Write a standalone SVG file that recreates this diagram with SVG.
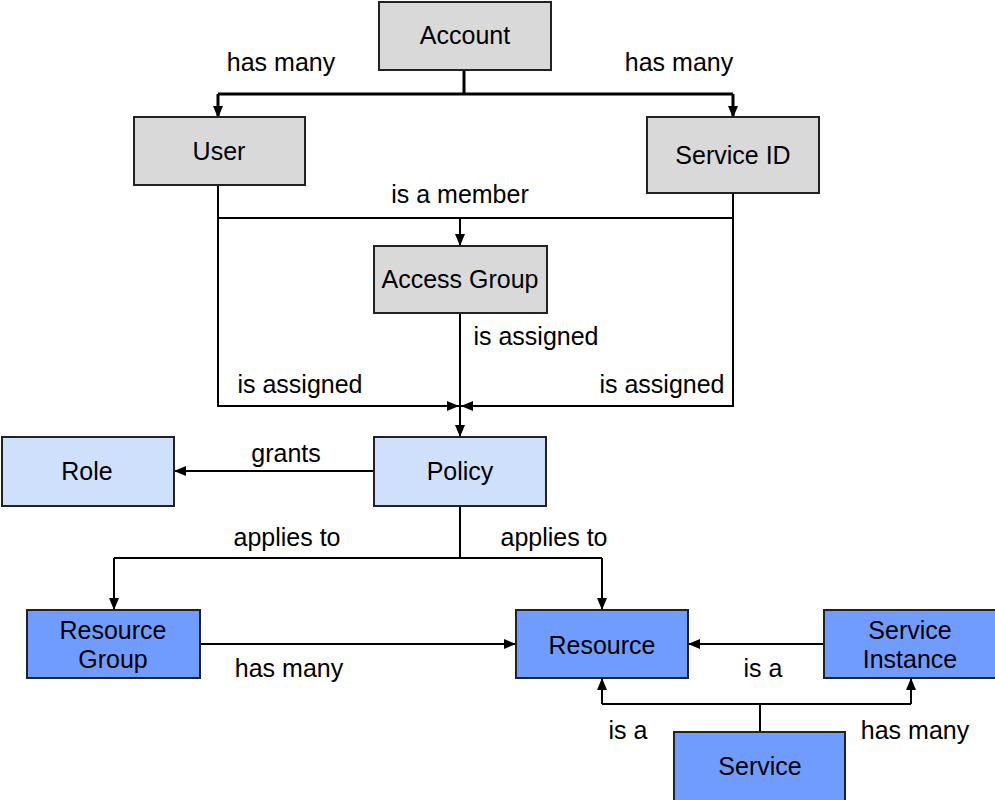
<svg xmlns="http://www.w3.org/2000/svg" width="995" height="800" viewBox="0 0 995 800">
<defs>
<marker id="ah" viewBox="0 0 12 10" refX="12" refY="5" markerWidth="12" markerHeight="10" markerUnits="userSpaceOnUse" orient="auto">
<path d="M0,0 L12,5 L0,10 Z" fill="#000"/>
</marker>
</defs>
<style>
text{font-family:"Liberation Sans",Arial,sans-serif;font-size:25px;fill:#000;text-anchor:middle}
.box{stroke:#222;stroke-width:2}
.gray{fill:#d9d9d9}
.light{fill:#cfe0fc}
.blue{fill:#709cff}
.c{fill:none;stroke:#000;stroke-width:2}
.thick{stroke-width:3}
</style>
<rect width="995" height="800" fill="#fff"/>
<g id="connectors">
<path class="c thick" d="M464,70 V94"/>
<path class="c thick" d="M218,94 H733"/>
<path class="c thick" d="M218,94 V118" marker-end="url(#ah)"/>
<path class="c thick" d="M733,94 V118" marker-end="url(#ah)"/>
<path class="c" d="M218,185 V406 H459" marker-end="url(#ah)"/>
<path class="c" d="M733,193 V406 H461" marker-end="url(#ah)"/>
<path class="c" d="M218,218 H733"/>
<path class="c" d="M460,218 V246" marker-end="url(#ah)"/>
<path class="c" d="M460,313 V437" marker-end="url(#ah)"/>
<path class="c" d="M374,471 H174" marker-end="url(#ah)"/>
<path class="c" d="M460,506 V558"/>
<path class="c" d="M114,558 H602"/>
<path class="c" d="M114,558 V610" marker-end="url(#ah)"/>
<path class="c" d="M602,558 V610" marker-end="url(#ah)"/>
<path class="c" d="M200,644 H516" marker-end="url(#ah)"/>
<path class="c" d="M824,644 H688" marker-end="url(#ah)"/>
<path class="c" d="M760,732 V704"/>
<path class="c" d="M602,704 H911"/>
<path class="c" d="M602,704 V678" marker-end="url(#ah)"/>
<path class="c" d="M911,704 V678" marker-end="url(#ah)"/>
<text x="281" y="71">has many</text>
<text x="679" y="71">has many</text>
<text x="460" y="203">is a member</text>
<text x="536" y="345">is assigned</text>
<text x="300" y="393">is assigned</text>
<text x="662" y="393">is assigned</text>
<text x="286" y="462">grants</text>
<text x="287" y="546">applies to</text>
<text x="554" y="546">applies to</text>
<text x="289" y="677">has many</text>
<text x="763" y="677">is a</text>
<text x="628" y="739">is a</text>
<text x="915" y="739">has many</text>
</g>
<g id="account"><rect class="box gray" x="379" y="2" width="172" height="68"/><text x="465" y="44">Account</text></g>
<g id="user"><rect class="box gray" x="134" y="117" width="171" height="68"/><text x="219" y="160">User</text></g>
<g id="service-id"><rect class="box gray" x="647" y="117" width="172" height="76"/><text x="733" y="164">Service ID</text></g>
<g id="access-group"><rect class="box gray" x="374" y="246" width="173" height="67"/><text x="460" y="288">Access Group</text></g>
<g id="policy"><rect class="box light" x="374" y="437" width="172" height="69"/><text x="460" y="480">Policy</text></g>
<g id="role"><rect class="box light" x="2" y="437" width="172" height="69"/><text x="87" y="480">Role</text></g>
<g id="resource-group"><rect class="box blue" x="27" y="610" width="173" height="68"/><text x="113" y="639">Resource</text><text x="113" y="668">Group</text></g>
<g id="resource"><rect class="box blue" x="516" y="610" width="172" height="68"/><text x="602" y="654">Resource</text></g>
<g id="service-instance"><rect class="box blue" x="824" y="610" width="174" height="68"/><text x="910" y="639">Service</text><text x="910" y="668">Instance</text></g>
<g id="service"><rect class="box blue" x="674" y="732" width="171" height="70"/><text x="760" y="775">Service</text></g>
</svg>
